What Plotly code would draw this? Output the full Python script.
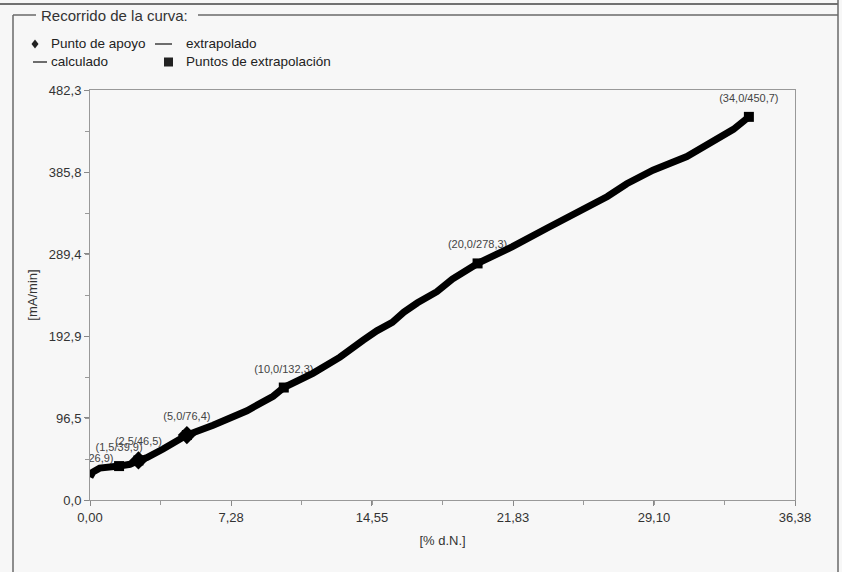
import plotly.graph_objects as go

# ---- data ----
curve_x = [0.0, 0.15, 0.5, 1.2, 1.5, 2.06, 2.5, 2.94, 3.77, 4.3, 4.6, 5.0, 6.35, 8.1, 9.45,
           10.0, 11.5, 12.9, 14.1, 14.8, 15.6, 16.2, 16.9, 17.9, 18.7, 19.45, 20.0,
           21.15, 21.8, 23.6, 25.3, 26.7, 27.7, 29.05, 30.8, 32.1, 33.2, 34.0]
curve_y = [26.9, 33.0, 37.5, 38.8, 39.9, 42.0, 46.5, 50.0, 60.0, 67.0, 71.0, 76.4, 88.0, 105.0, 122.0,
           132.3, 149.0, 168.0, 188.0, 199.0, 209.0, 221.0, 232.0, 245.0, 260.0, 271.0, 278.3,
           290.0, 298.0, 320.0, 341.0, 357.0, 372.0, 388.0, 404.0, 421.0, 436.0, 450.7]

pts_x = [0.0, 1.5, 2.5, 5.0, 10.0, 20.0, 34.0]
pts_y = [26.9, 39.9, 46.5, 76.4, 132.3, 278.3, 450.7]

extrap_x = [1.5, 2.5, 5.0, 10.0, 20.0, 34.0]
extrap_y = [39.9, 46.5, 76.4, 132.3, 278.3, 450.7]

apoyo_x = [2.5, 5.0]
apoyo_y = [46.5, 76.4]

x_ticks = [0.0, 7.28, 14.55, 21.83, 29.10, 36.38]
y_ticks = [0.0, 96.5, 192.9, 289.4, 385.8, 482.3]

title_text = "Recorrido de la curva:"
legend_labels = ["Punto de apoyo", "extrapolado", "calculado", "Puntos de extrapolación"]
x_title = "[% d.N.]"
y_title = "[mA/min]"

FONT = "Liberation Sans, Arial, sans-serif"
W, H = 842, 572
L, R, T, B = 90, 795, 90, 500


def px(xp):
    return (xp - L) / (R - L)


def py(yp):
    return (B - yp) / (B - T)


def fmt(v, d):
    return f"{v:.{d}f}".replace(".", ",")


labels = [f"({fmt(x, 1)}/{fmt(y, 1)})" for x, y in zip(pts_x, pts_y)]

fig = go.Figure()

# point labels (drawn beneath the curve); invisible marker pushes text upward
fig.add_trace(go.Scatter(
    x=pts_x, y=pts_y, mode="markers+text", text=labels, textposition="top center",
    marker=dict(size=18, opacity=0),
    textfont=dict(family=FONT, size=11, color="#444444"), showlegend=False,
    hoverinfo="skip"))

# split curve: calculado (1.5..20), extrapolado (outside)
i0 = curve_x.index(1.5)
i1 = curve_x.index(20.0)
line_style = dict(color="#000000", width=7)
fig.add_trace(go.Scatter(x=curve_x[:i0 + 1], y=curve_y[:i0 + 1], mode="lines",
                         line=line_style, name="extrapolado", showlegend=False))
fig.add_trace(go.Scatter(x=curve_x[i0:i1 + 1], y=curve_y[i0:i1 + 1], mode="lines",
                         line=line_style, name="calculado", showlegend=False))
fig.add_trace(go.Scatter(x=curve_x[i1:], y=curve_y[i1:], mode="lines",
                         line=line_style, name="extrapolado", showlegend=False))

fig.add_trace(go.Scatter(x=apoyo_x, y=apoyo_y, mode="markers", name="Punto de apoyo",
                         marker=dict(symbol="diamond", size=14, color="#000000"),
                         showlegend=False))
fig.add_trace(go.Scatter(x=extrap_x, y=extrap_y, mode="markers", name="Puntos de extrapolación",
                         marker=dict(symbol="square", size=10, color="#000000"),
                         showlegend=False))

shapes = []
annotations = []

# frame / group box
frame_col = "#6a6a6a"
shapes.append(dict(type="line", xref="paper", yref="paper", x0=px(0), x1=px(838),
                   y0=py(4), y1=py(4), line=dict(color="#444444", width=1.5)))
shapes.append(dict(type="line", xref="paper", yref="paper", x0=px(838), x1=px(838),
                   y0=py(0), y1=py(572), line=dict(color=frame_col, width=1.5)))
shapes.append(dict(type="line", xref="paper", yref="paper", x0=px(13), x1=px(13),
                   y0=py(15), y1=py(572), line=dict(color=frame_col, width=1.5)))
shapes.append(dict(type="line", xref="paper", yref="paper", x0=px(13), x1=px(36),
                   y0=py(15), y1=py(15), line=dict(color=frame_col, width=1.5)))
shapes.append(dict(type="line", xref="paper", yref="paper", x0=px(198), x1=px(838),
                   y0=py(15), y1=py(15), line=dict(color=frame_col, width=1.5)))
annotations.append(dict(text=title_text, xref="paper", yref="paper", x=px(39), y=py(15),
                        xanchor="left", yanchor="middle", showarrow=False,
                        font=dict(family=FONT, size=15, color="#333333")))

# manual legend
leg_font = dict(family=FONT, size=13.5, color="#222222")
# row 1
shapes.append(dict(type="path", xref="paper", yref="paper",
                   path=f"M {px(35)} {py(39.5)} L {px(38.5)} {py(44)} L {px(35)} {py(48.5)} L {px(31.5)} {py(44)} Z",
                   fillcolor="#222222", line=dict(width=0)))
annotations.append(dict(text=legend_labels[0], xref="paper", yref="paper", x=px(49), y=py(44),
                        xanchor="left", yanchor="middle", showarrow=False, font=leg_font))
shapes.append(dict(type="line", xref="paper", yref="paper", x0=px(155), x1=px(172),
                   y0=py(44), y1=py(44), line=dict(color="#222222", width=1.3)))
annotations.append(dict(text=legend_labels[1], xref="paper", yref="paper", x=px(184), y=py(44),
                        xanchor="left", yanchor="middle", showarrow=False, font=leg_font))
# row 2
shapes.append(dict(type="line", xref="paper", yref="paper", x0=px(33), x1=px(47),
                   y0=py(62), y1=py(62), line=dict(color="#222222", width=1.3)))
annotations.append(dict(text=legend_labels[2], xref="paper", yref="paper", x=px(49), y=py(62),
                        xanchor="left", yanchor="middle", showarrow=False, font=leg_font))
shapes.append(dict(type="rect", xref="paper", yref="paper", x0=px(164), x1=px(173),
                   y0=py(57.5), y1=py(66.5), fillcolor="#222222", line=dict(width=0)))
annotations.append(dict(text=legend_labels[3], xref="paper", yref="paper", x=px(184), y=py(62),
                        xanchor="left", yanchor="middle", showarrow=False, font=leg_font))

axis_common = dict(
    showline=True, linecolor="#999999", linewidth=1, mirror=True,
    showgrid=False, zeroline=False, ticks="outside", ticklen=5, tickcolor="#888888",
    tickfont=dict(family=FONT, size=13, color="#333333"),
)

fig.update_layout(
    width=W, height=H,
    margin=dict(l=L, r=W - R, t=T, b=H - B),
    paper_bgcolor="#f7f7f7", plot_bgcolor="#f7f7f7",
    separators=",.",
    showlegend=False,
    shapes=shapes, annotations=annotations,
    xaxis=dict(range=[0, 36.38], tickmode="array", tickvals=x_ticks, tickformat=".2f",
               minor=dict(ticks="outside", ticklen=4, tickcolor="#999999", dtick=3.638, tick0=0),
               title=dict(text=x_title, standoff=12, font=dict(family=FONT, size=13, color="#333333")),
               **axis_common),
    yaxis=dict(range=[0, 482.3], tickmode="array", tickvals=y_ticks, tickformat=".1f",
               minor=dict(ticks="outside", ticklen=4, tickcolor="#999999", dtick=48.23, tick0=0),
               title=dict(text=y_title, standoff=8, font=dict(family=FONT, size=13, color="#333333")),
               **axis_common),
)

fig.write_html(
    "out.html",
    config={"displayModeBar": False},
    post_script="document.body.style.margin='0';document.body.style.background='#f7f7f7';",
)
